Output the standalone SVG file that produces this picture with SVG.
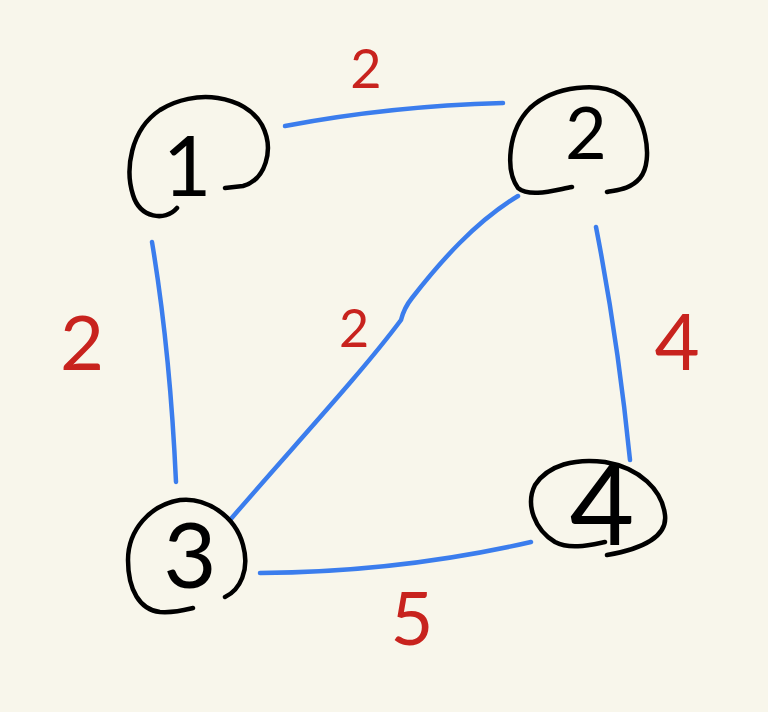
<svg xmlns="http://www.w3.org/2000/svg" width="768" height="712" viewBox="0 0 768 712">
<style>
.bg{fill:#f8f6eb}
.ring{fill:none;stroke:#000;stroke-width:4.5;stroke-linecap:round;stroke-linejoin:round}
.edge{fill:none;stroke:#3b7ded;stroke-width:4.5;stroke-linecap:round}
.num{font-family:"Lato","Roboto","Liberation Sans",sans-serif;font-weight:400;fill:#000;text-anchor:middle}
.lbl{font-family:"Lato","Roboto","Liberation Sans",sans-serif;font-weight:400;fill:#c8231e;text-anchor:middle}
</style>
<rect class="bg" x="0" y="0" width="768" height="712"/>
<g id="connectors">
<path class="edge" d="M285,126 Q390,106 503,103"/>
<path class="edge" d="M518,196 C475,222 440,262 412,298 Q404,308 401,320 C360,375 290,450 230,520"/>
<path class="edge" d="M152,242 Q170,350 176,482"/>
<path class="edge" d="M596,227 Q618,340 630,460"/>
<path class="edge" d="M260,573 Q400,572 531,542"/>
</g>
<g id="node1">
<path class="ring" d="M177,208 C165,222 140,218 133,195 C125,170 130,130 160,110 C195,88 245,95 262,125 C275,150 265,180 243,186 L225,188"/>
<text class="num" x="187" y="196" font-size="84">1</text>
</g>
<g id="node2">
<path class="ring" d="M572,187 C555,190 530,198 518,188 C505,170 508,130 530,108 C555,85 600,82 620,95 C645,110 655,160 640,178 C630,190 615,190 607,192"/>
<text class="num" x="586" y="159" font-size="72">2</text>
</g>
<g id="node3">
<path class="ring" d="M225,597 C240,590 250,570 243,545 C235,515 205,497 180,500 C150,505 128,530 128,560 C128,590 140,610 160,612 C175,613 185,610 193,608"/>
<text class="num" x="190" y="588" font-size="92">3</text>
</g>
<g id="node4">
<path class="ring" d="M607,555 C635,550 668,540 665,515 C662,490 640,468 605,462 C575,458 548,465 535,485 C525,505 535,530 555,542 C570,550 590,545 605,542"/>
<text class="num" x="602" y="545" font-size="112">4</text>
</g>
<g id="labels">
<text class="lbl" x="366" y="88" font-size="54">2</text>
<text class="lbl" x="82" y="370" font-size="76">2</text>
<text class="lbl" x="354" y="347" font-size="52">2</text>
<text class="lbl" x="677" y="370" font-size="78">4</text>
<text class="lbl" x="412" y="645" font-size="74">5</text>
</g>
</svg>
